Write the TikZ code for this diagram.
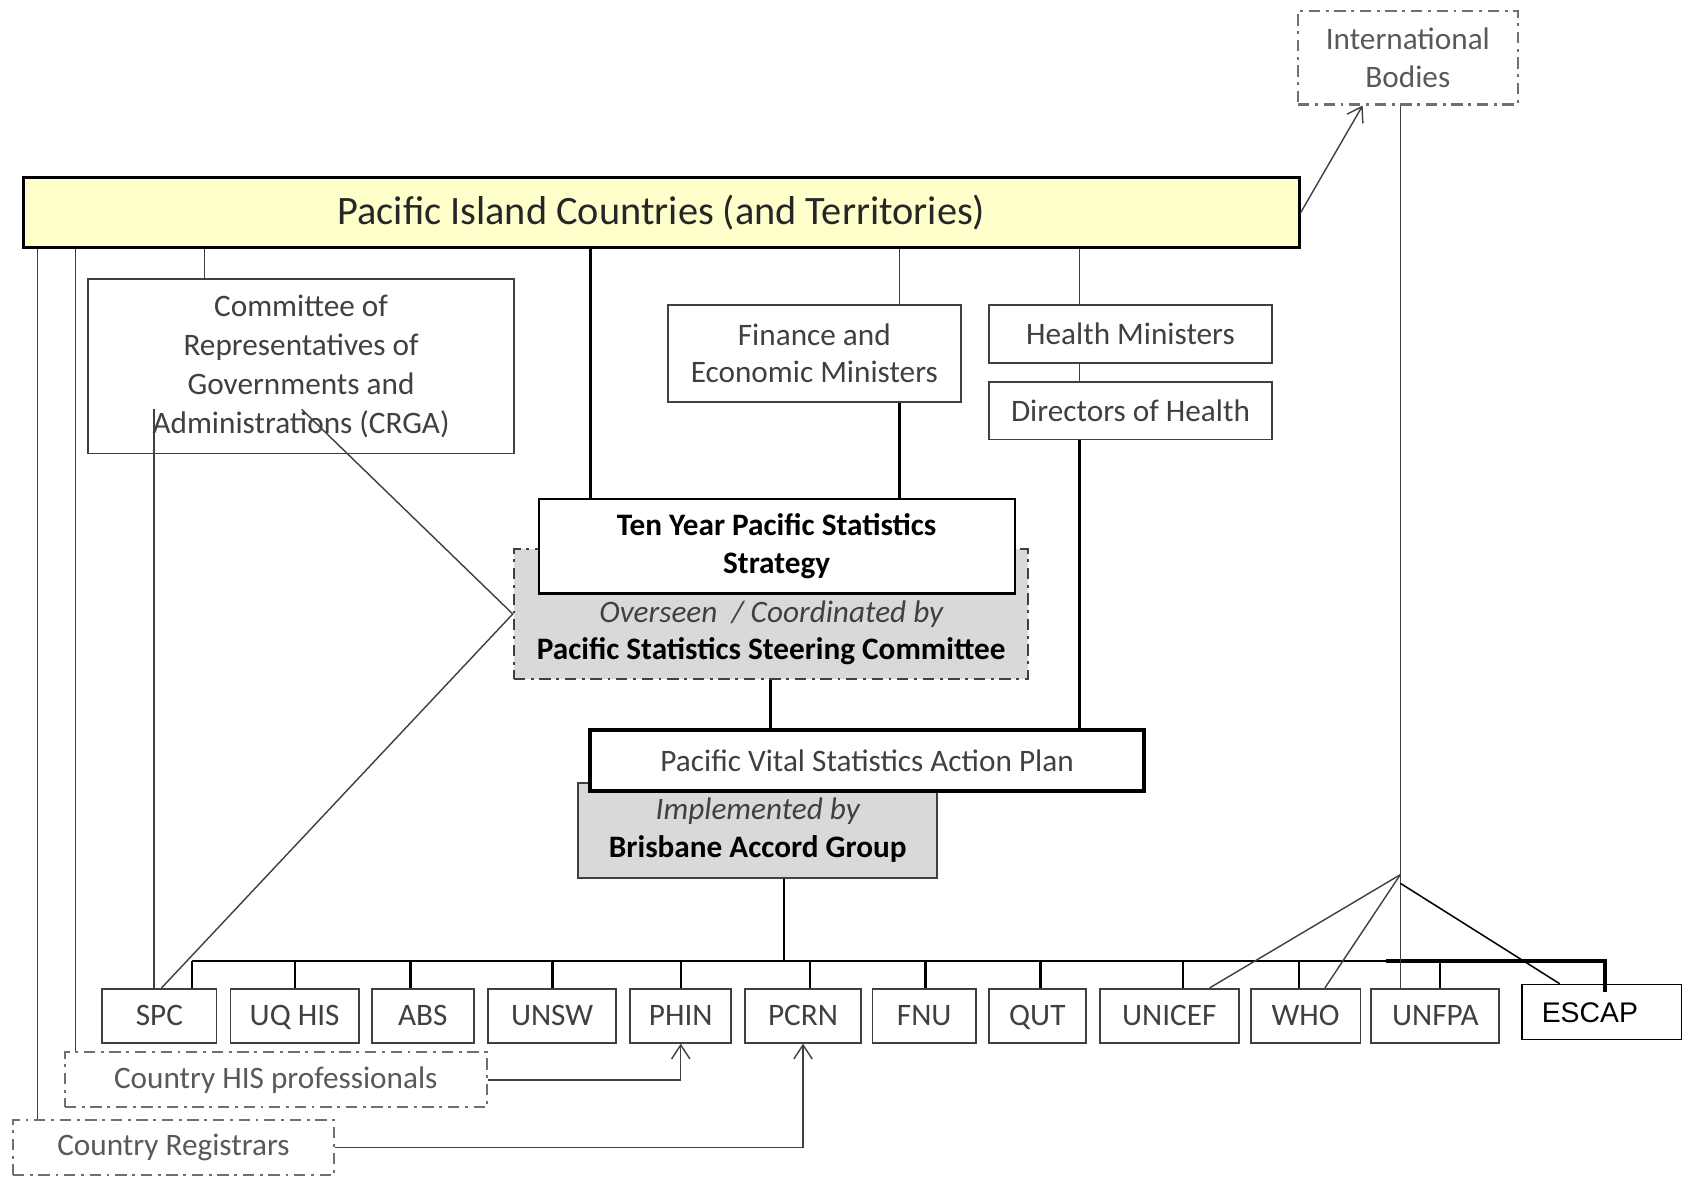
\documentclass[tikz,border=0pt]{standalone}
\usepackage{fontspec}
\setmainfont{Carlito}
\newfontfamily\arialfont{Liberation Sans}
\usetikzlibrary{arrows.meta,positioning}
\definecolor{picyellow}{RGB}{255,255,204}
\definecolor{grpgray}{RGB}{217,217,217}
\definecolor{txtgray}{RGB}{64,64,64}
\definecolor{dotgray}{RGB}{112,112,112}
\tikzstyle{box} = [rectangle, draw=txtgray, line width=1pt, fill=white, inner sep=0pt, align=center, text=txtgray]
\tikzstyle{member} = [box, minimum height=10mm, text height=10.6pt, text depth=0pt]
\tikzstyle{dotbox} = [rectangle, draw=dotgray, line width=1.1pt, dash pattern={on 6pt off 3pt on 1.5pt off 3pt}, inner sep=0pt, align=center, text=black!65]
\tikzstyle{link} = [line width=0.75pt, color=txtgray]
\tikzstyle{mainlink} = [line width=1.5pt, color=black]
\tikzstyle{busline} = [line width=1.3pt, color=black]
\tikzstyle{arrow} = [link, ->, >={Straight Barb[length=2.6mm,width=3.4mm]}]

\begin{document}
\begin{tikzpicture}[x=0.2mm, y=-0.2mm, font=\fontsize{16.5}{20}\selectfont]
    \useasboundingbox (0,0) rectangle (1568,1093);

    % Countries and international bodies
    \node[box, draw=black, line width=1.6pt, fill=picyellow, minimum width=236.8mm, minimum height=13mm, text=black!85, font=\fontsize{21.3}{25}\selectfont] (pic) at (614,197.5) {Pacific Island Countries (and Territories)};
    \node[dotbox, minimum width=40.8mm, minimum height=17.4mm] (intl) at (1307,53.5) {International\\Bodies};

    % Regional bodies
    \node[box, minimum width=79mm, minimum height=32.4mm, font=\fontsize{16.5}{20.5}\selectfont] (crga) at (279.5,340) {Committee of\\Representatives of\\Governments and\\Administrations (CRGA)};
    \node[box, minimum width=54.4mm, minimum height=18mm] (fin) at (756,328) {Finance and\\Economic Ministers};
    \node[box, minimum width=52.6mm, minimum height=10.8mm] (hmin) at (1049.5,310) {Health Ministers};
    \node[box, minimum width=52.6mm, minimum height=10.6mm] (dir) at (1049.5,381.5) {Directors of Health};

    % Strategy
    \node[dotbox, draw=txtgray, fill=grpgray, minimum width=95.4mm, minimum height=24mm] (pssc) at (715.5,570) {};
    \node[align=center, text=black] (psscText) at (716,587.5) {\textit{\color{txtgray}Overseen\ \ / Coordinated by}\\\textbf{Pacific Statistics Steering Committee}};
    \node[box, draw=black, line width=1.1pt, minimum width=88.4mm, minimum height=17.6mm, text=black, font=\fontsize{16.5}{20}\selectfont\bfseries] (ten) at (721,507) {Ten Year Pacific Statistics\\Strategy};

    % Action plan
    \node[box, fill=grpgray, minimum width=66.6mm, minimum height=17.6mm, text=black] (bag) at (703.5,771) {\textit{\color{txtgray}Implemented by}\\\textbf{Brisbane Accord Group}};
    \node[box, draw=black, line width=2pt, minimum width=102.8mm, minimum height=11.2mm] (pvsap) at (805,706) {Pacific Vital Statistics Action Plan};

    % Members
    \foreach \n/\lbl/\x/\w/\dx in {spc/SPC/148/21.2/178, uqhis/UQ HIS/273.5/23.8/274, abs/ABS/392.5/19/381, unsw/UNSW/512.5/23.8/513, phin/PHIN/632/18.8/632, pcrn/PCRN/745.5/21.4/752, fnu/FNU/858/19.2/859, qut/QUT/963/18/966, unicef/UNICEF/1085.5/25.8/1098, who/WHO/1212/20.4/1206, unfpa/UNFPA/1332.5/23.8/1337}
    {
        \node[member, minimum width=\w mm] (\n) at (\x,943) {\lbl};
        \coordinate (d\n) at (\dx,892);
        \draw[busline] (d\n) -- (d\n |- \n.north);
    }
    \node[member, draw=black, line width=0.8pt, text=black, font=\arialfont\fontsize{15}{18}\selectfont, text height=10.7pt, minimum width=29.6mm, minimum height=10.2mm] (escap) at (1487,939.5) {ESCAP\hspace*{4.4mm}};

    % Country level
    \node[dotbox, minimum width=78.4mm, minimum height=10.2mm] (his) at (256,1002.5) {Country HIS professionals};
    \node[dotbox, minimum width=59.6mm, minimum height=10.2mm] (reg) at (161,1065.5) {Country Registrars};

    % Links from countries
    \coordinate (kreg) at (35,0);
    \coordinate (khis) at (70,0);
    \coordinate (kcrga) at (190,0);
    \coordinate (kten) at (548,0);
    \coordinate (kfin) at (835,0);
    \coordinate (khealth) at (1002,0);
    \coordinate (kintl) at (1265,0);
    \draw[link] (pic.south -| kreg) -- (reg.north -| kreg);
    \draw[link] (pic.south -| khis) -- (his.north -| khis);
    \draw[link] (pic.south -| kcrga) -- (crga.north -| kcrga);
    \draw[mainlink] (pic.south -| kten) -- (ten.north -| kten);
    \draw[link] (pic.south -| kfin) -- (fin.north -| kfin);
    \draw[mainlink] (fin.south -| kfin) -- (ten.north -| kfin);
    \draw[link] (pic.south -| khealth) -- (hmin.north -| khealth);
    \draw[link] (hmin.south -| khealth) -- (dir.north -| khealth);
    \draw[mainlink] (dir.south -| khealth) -- (pvsap.north -| khealth);
    \draw[arrow] (pic.east) -- (intl.south -| kintl);

    % Strategy to plan to members
    \draw[mainlink] (pssc.south) -- (pssc.south |- pvsap.north);
    \coordinate (kbag) at (728,0);
    \coordinate (busend) at (1490,892);
    \coordinate (escapdrop) at (1490,921);
    \draw[busline] (bag.south -| kbag) -- (dspc -| kbag);
    \draw[busline] (dspc) -- (busend);
    \draw[line width=2pt] (1287,892) -- (busend) -- (escapdrop);

    % CRGA links
    \coordinate (crgain) at (143,380);
    \coordinate (crgaout) at (280,380);
    \coordinate (kspc) at (150,0);
    \draw[link] (crgain) -- (spc.north -| crgain);
    \draw[link] (crgaout) -- (pssc.west) -- (spc.north -| kspc);

    % International bodies
    \coordinate (kfan) at (1300,812);
    \coordinate (kfan2) at (1300,820);
    \coordinate (kuni) at (1123,0);
    \coordinate (kwho) at (1230,0);
    \coordinate (kesc) at (1448,0);
    \draw[link] (intl.south -| kfan) -- (unfpa.north -| kfan);
    \draw[link] (kfan) -- (unicef.north -| kuni);
    \draw[link] (kfan) -- (who.north -| kwho);
    \draw[line width=0.8pt] (kfan2) -- (escap.north -| kesc);

    % Country arrows
    \draw[arrow] (his.east) -| (phin.south);
    \draw[arrow] (reg.east) -| (pcrn.south);
\end{tikzpicture}
\end{document}
